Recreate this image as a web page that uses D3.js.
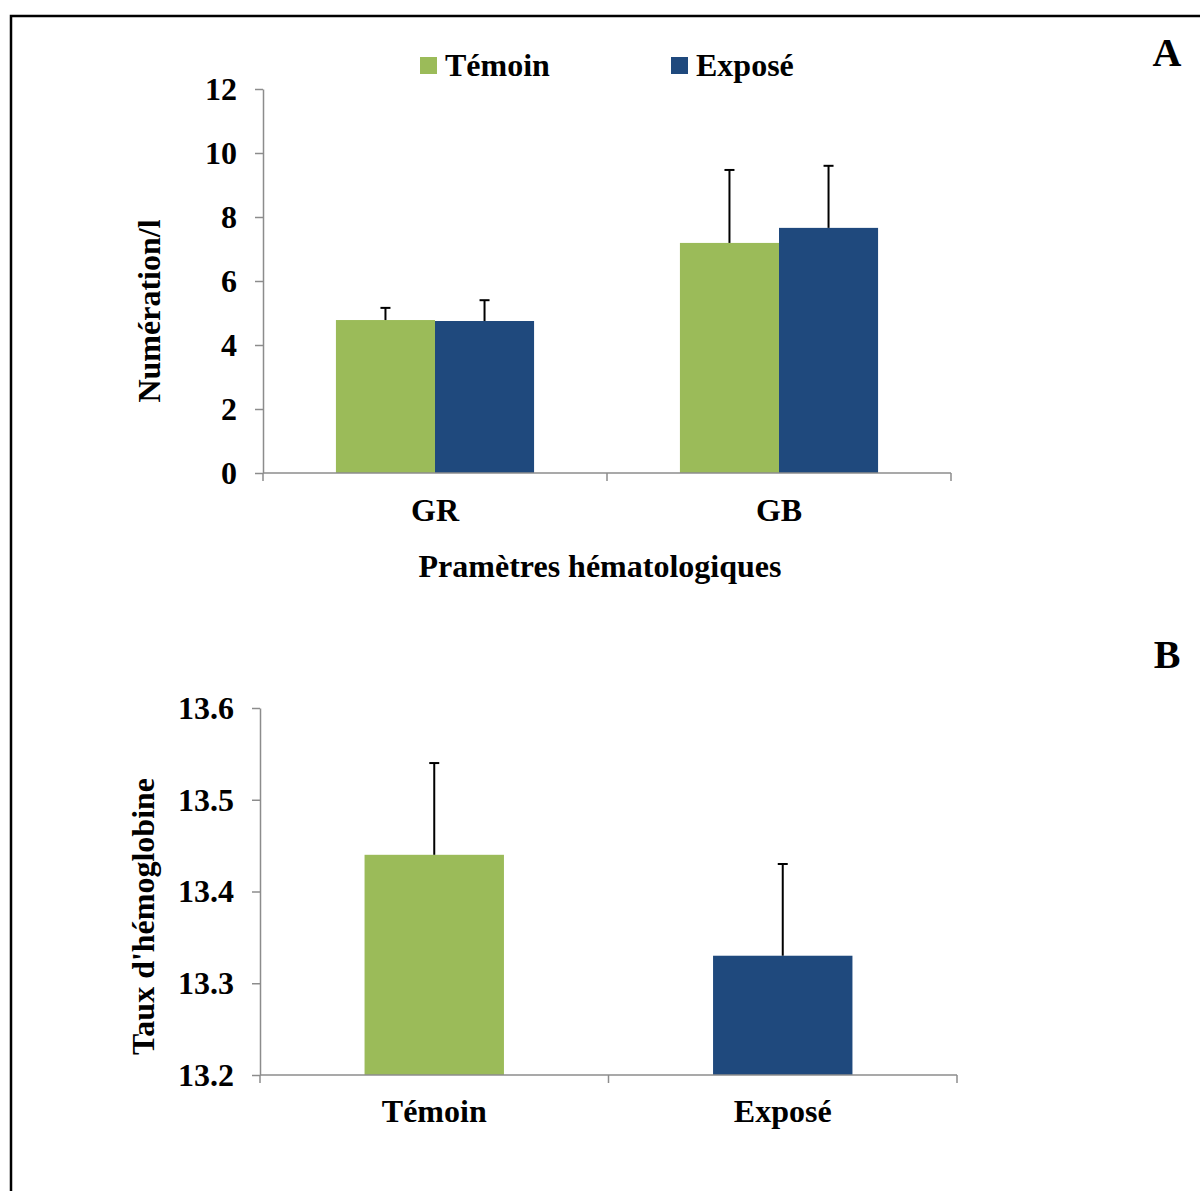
<!DOCTYPE html>
<html>
<head>
<meta charset="utf-8">
<script src="https://cdn.jsdelivr.net/npm/d3@7"></script>
<style>
  body { margin: 0; background: #fff; }
  svg text { font-family: "Liberation Serif", "Times New Roman", serif !important; font-weight: bold; fill: #000; }
</style>
</head>
<body>
<svg class="chart"></svg>
<script>
// DATA /////////////////////////////////
const seriesNames = ["Témoin", "Exposé"];
const colors = ["#9BBB59", "#1F497D"];

const paramsA = ["GR", "GB"];
const meansA = [[4.78, 7.19], [4.75, 7.66]]; // per series
const errA = [[0.38, 2.28], [0.65, 1.94]];
const ticksA = [0, 2, 4, 6, 8, 10, 12];

const groupsB = ["Témoin", "Exposé"];
const meansB = [13.44, 13.33];
const errB = [0.10, 0.10];
const ticksB = [13.2, 13.3, 13.4, 13.5, 13.6];

// SETUP /////////////////////////////////
const W = 1200, H = 1191;
const FONT = '"Liberation Serif", "Times New Roman", serif';
const FS = "32px";
const svg = d3.select(".chart").attr("width", W).attr("height", H);

svg.append("rect")
  .attr("x", 11).attr("y", 16)
  .attr("width", W + 20).attr("height", H + 20)
  .attr("fill", "none").attr("stroke", "#000").attr("stroke-width", 2.5);

const axisColor = "#8c8c8c";

const styleAxis = (g) => {
  g.attr("font-family", FONT);
  g.selectAll(".domain").attr("stroke", axisColor).attr("stroke-width", 1.5);
  g.selectAll(".tick line").attr("stroke", axisColor).attr("stroke-width", 1.5);
  g.selectAll("text").style("font-size", FS).style("font-family", FONT);
};

const errorBar = (g, x, y0, y1) => {
  g.append("line").attr("x1", x).attr("x2", x).attr("y1", y0).attr("y2", y1)
    .attr("stroke", "#000").attr("stroke-width", 2);
  g.append("line").attr("x1", x - 5).attr("x2", x + 5).attr("y1", y1).attr("y2", y1)
    .attr("stroke", "#000").attr("stroke-width", 2);
};

const label = (g, x, y, txt, size, anchor) =>
  g.append("text").attr("x", x).attr("y", y)
    .attr("text-anchor", anchor || "middle")
    .style("font-family", FONT).style("font-size", size || FS).text(txt);

// CHART A ///////////////////////////////
const xA0 = 263, xA1 = 951, yA0 = 473, yA1 = 89;
const xA = d3.scaleBand().domain(paramsA).range([xA0, xA1]).paddingInner(0.424).paddingOuter(0.212);
const xSub = d3.scaleBand().domain(seriesNames).range([0, xA.bandwidth()]);
const yA = d3.scaleLinear().domain([0, 12]).range([yA0, yA1]);

const gA = svg.append("g");

const barsA = gA.append("g");
seriesNames.forEach((s, si) => {
  paramsA.forEach((p, pi) => {
    const x = xA(p) + xSub(s);
    barsA.append("rect")
      .attr("x", x).attr("width", xSub.bandwidth())
      .attr("y", yA(meansA[si][pi])).attr("height", yA(0) - yA(meansA[si][pi]))
      .attr("fill", colors[si]);
  });
});
seriesNames.forEach((s, si) => {
  paramsA.forEach((p, pi) => {
    const cx = xA(p) + xSub(s) + xSub.bandwidth() / 2;
    errorBar(barsA, cx, yA(meansA[si][pi]), yA(meansA[si][pi] + errA[si][pi]));
  });
});

gA.append("g")
  .attr("transform", `translate(${xA0},0)`)
  .call(d3.axisLeft(yA).tickValues(ticksA).tickSize(8).tickSizeOuter(0).tickPadding(18))
  .call(styleAxis);

// x axis with ticks at category boundaries
const xAxisA = gA.append("g").attr("transform", `translate(0,${yA0})`);
xAxisA.append("line").attr("x1", xA0).attr("x2", xA1)
  .attr("stroke", axisColor).attr("stroke-width", 1.5);
const boundsA = [xA0, (xA(paramsA[0]) + xA.bandwidth() + xA(paramsA[1])) / 2, xA1];
boundsA.forEach((b) => xAxisA.append("line").attr("x1", b).attr("x2", b).attr("y1", 0).attr("y2", 8)
  .attr("stroke", axisColor).attr("stroke-width", 1.5));
paramsA.forEach((p) => label(xAxisA, xA(p) + xA.bandwidth() / 2, 48, p));

label(gA, 600, 577, "Pramètres hématologiques");

gA.append("text")
  .attr("transform", `translate(160,${(yA0 + yA1) / 2 + 30}) rotate(-90)`)
  .attr("text-anchor", "middle").style("font-family", FONT).style("font-size", FS).text("Numération/l");

// legend
const legendX = [420, 671];
seriesNames.forEach((s, i) => {
  gA.append("rect").attr("x", legendX[i]).attr("y", 57).attr("width", 17).attr("height", 17).attr("fill", colors[i]);
  label(gA, legendX[i] + 25, 76, s, FS, "start");
});

label(svg, 1167, 66, "A", "40px");
label(svg, 1167, 668, "B", "40px");

// CHART B ///////////////////////////////
const xB0 = 260, xB1 = 957, yB0 = 1075, yB1 = 708;
const xB = d3.scaleBand().domain(groupsB).range([xB0, xB1]).paddingInner(0.6).paddingOuter(0.3);
const yB = d3.scaleLinear().domain([13.2, 13.6]).range([yB0, yB1]);

const gB = svg.append("g");
groupsB.forEach((gname, i) => {
  gB.append("rect")
    .attr("x", xB(gname)).attr("width", xB.bandwidth())
    .attr("y", yB(meansB[i])).attr("height", yB(13.2) - yB(meansB[i]))
    .attr("fill", colors[i]);
  errorBar(gB, xB(gname) + xB.bandwidth() / 2, yB(meansB[i]), yB(meansB[i] + errB[i]));
});

gB.append("g")
  .attr("transform", `translate(${xB0},0)`)
  .call(d3.axisLeft(yB).tickValues(ticksB).tickFormat(d3.format(".1f")).tickSize(8).tickSizeOuter(0).tickPadding(18))
  .call(styleAxis);

const xAxisB = gB.append("g").attr("transform", `translate(0,${yB0})`);
xAxisB.append("line").attr("x1", xB0).attr("x2", xB1)
  .attr("stroke", axisColor).attr("stroke-width", 1.5);
const stepB = (xB1 - xB0) / groupsB.length;
[0, 1, 2].forEach((k) => xAxisB.append("line")
  .attr("x1", xB0 + k * stepB).attr("x2", xB0 + k * stepB).attr("y1", 0).attr("y2", 8)
  .attr("stroke", axisColor).attr("stroke-width", 1.5));
groupsB.forEach((gname) => label(xAxisB, xB(gname) + xB.bandwidth() / 2, 47, gname));

gB.append("text")
  .attr("transform", `translate(154,${(yB0 + yB1) / 2 + 25}) rotate(-90)`)
  .attr("text-anchor", "middle").style("font-family", FONT).style("font-size", FS).text("Taux d'hémoglobine");
</script>
</body>
</html>
